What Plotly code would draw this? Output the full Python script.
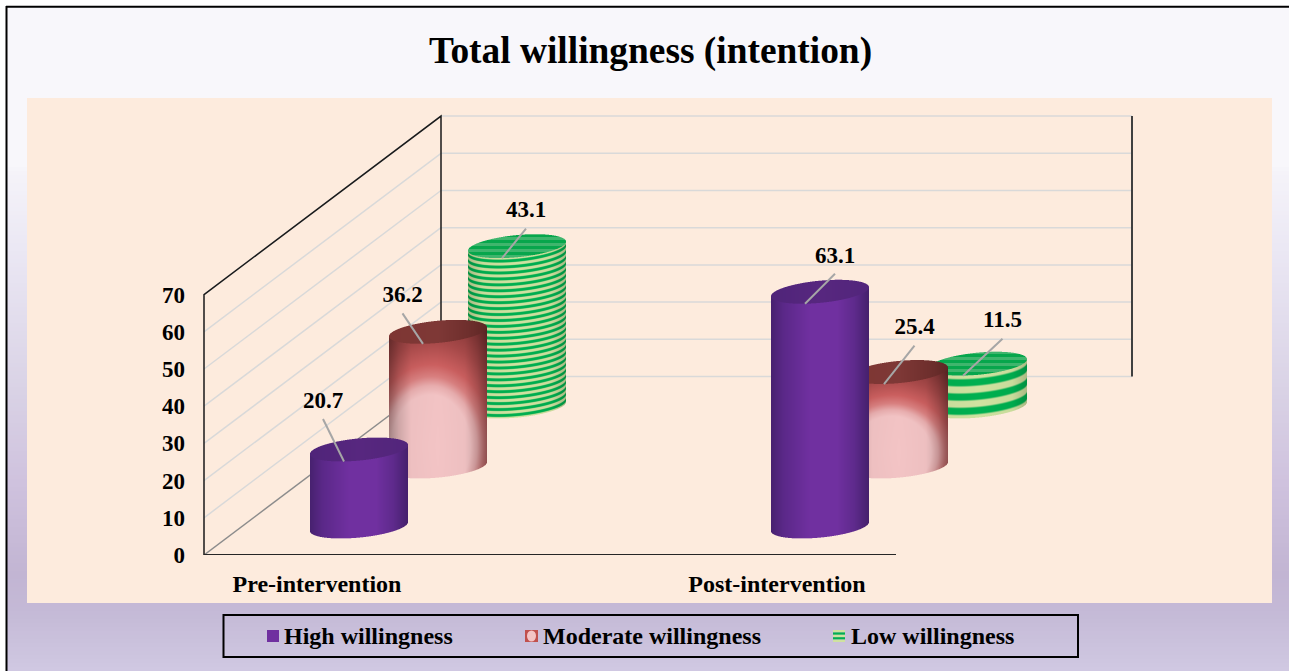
import numpy as np
import plotly.graph_objects as go

# ---------- data ----------
categories = ["Pre-intervention", "Post-intervention"]
series_names = ["High willingness", "Moderate willingness", "Low willingness"]
high_willingness = [20.7, 63.1]
moderate_willingness = [36.2, 25.4]
low_willingness = [43.1, 11.5]
y_ticks = [0, 10, 20, 30, 40, 50, 60, 70]

# ---------- geometry ----------
W, H = 1289, 671
FLOOR_PX, X_LEFT = 555, 190
K = 3.72                       # pixels per value unit
R_TOP = FLOOR_PX / K
DEPTH_X, DEPTH_PX = 237, 178.5
WALL_X0 = 204
WALL_X1 = 1132
FLOOR_END = 896
CAT_TICK_X = [317, 777]
BAR_X = [359, 820]             # first-series bar centres
BASE_PX = 526.5
STEP_X, STEP_PX = 79, 60
A, B, C = 49.0, 11.1, 4.5      # ellipse of a cylinder end
STRIPES = [27, 3]


def v_of(py):
    return (FLOOR_PX - py) / K


def hexrgb(h):
    return np.array([int(h[i:i + 2], 16) for i in (1, 3, 5)], float)


def ramp(t, stops, colors):
    cols = np.array([hexrgb(c) for c in colors])
    return np.stack([np.interp(t, stops, cols[:, i]) for i in range(3)], -1)


def paint_purple(u, ny, py, cy, body):
    side = ramp(u, [-1, -.75, -.2, .35, .7, 1],
                ["#47216f", "#5a2888", "#7030a0", "#7030a0", "#5e2a8c", "#45206c"])
    top = ramp(u, [-1, 0, 1], ["#4f2479", "#57277f", "#52257b"])
    return np.where(body[..., None], side, top)


def paint_red(u, ny, py, cy, body):
    r = np.sqrt(((u + .15) / .95) ** 2 + ((ny - .15) / .45) ** 2)
    c = ramp(r, [0, .85, 1.0, 1.15, 1.35, 1.7, 2.3],
             ["#f3c4c5", "#f2c3c4", "#e8adae", "#d98080", "#cb5f5f", "#a94a4a", "#7a3030"])
    edge = np.interp(np.abs(u), [0, .55, .8, 1], [1, .98, .85, .68])
    side = c * edge[..., None]
    top = ramp(u, [-1, 0, .6, 1], ["#7e3633", "#7e3836", "#6f2f2d", "#5e2725"])
    return np.where(body[..., None], side, top)


def paint_green(u, ny, py, cy, body, count=27, h=1):
    period = h / count
    front = C * u * -1 + B * np.sqrt(np.clip(1 - u ** 2, 0, 1))
    w = (py - (cy + front)) / period
    phase = w - np.floor(w)
    light = np.clip((np.abs(phase - .5) - .25) * 8 + .5, 0, 1)
    side = hexrgb("#00b050") * (1 - light[..., None]) + hexrgb("#cfe2a0") * light[..., None]
    edge = np.interp(np.abs(u), [0, .7, 1], [1, .97, .82])
    side = side * edge[..., None]
    hatch = (np.floor(py / 3) % 2)[..., None]
    top = hexrgb("#07a64c") * (1 - hatch) + hexrgb("#3fb56d") * hatch
    return np.where(body[..., None], side, top)


painters = [paint_purple, paint_red, paint_green]


def cylinder_rgba(cx, base_px, value, painter, ss=3, **kw):
    top_px = base_px - value * K
    x0, x1 = int(cx - A - 2), int(cx + A + 3)
    y0, y1 = int(top_px - B - C - 3), int(base_px + B + C + 3)
    xs = x0 + (np.arange((x1 - x0) * ss) + .5) / ss
    ys = y0 + (np.arange((y1 - y0) * ss) + .5) / ss
    X, Y = np.meshgrid(xs, ys)
    u = (X - cx) / A
    inside = np.abs(u) <= 1
    uc = np.clip(u, -1, 1)
    half = B * np.sqrt(1 - uc ** 2)
    tilt = -C * uc
    face = inside & (np.abs(Y - (top_px + tilt)) <= half)
    body = inside & ~face & (Y > top_px + tilt) & (Y <= base_px + tilt + half)
    ny = (base_px - Y) / max(value * K, 1)
    extra = dict(h=value * K, **kw) if painter is paint_green else {}
    rgb = painter(uc, ny, Y, top_px, body, **extra)
    alpha = (face | body).astype(float)
    n, m = y1 - y0, x1 - x0
    al = alpha.reshape(n, ss, m, ss).mean((1, 3))
    pm = (rgb * alpha[..., None]).reshape(n, ss, m, ss, 3).mean((1, 3))
    col = np.where(al[..., None] > 0, pm / np.maximum(al[..., None], 1e-6), 0)
    rgba = np.dstack([np.round(col), np.round(al, 2)])[::-1]    # lowest value row first
    return rgba, x0 + .5, v_of(y1 - .5)


fig = go.Figure()

# ---------- cylinders, back to front ----------
all_values = [high_willingness, moderate_willingness, low_willingness]
for s in [2, 1, 0]:
    for c in range(2):
        cx = BAR_X[c] + s * STEP_X
        base = BASE_PX - s * STEP_PX
        kw = dict(count=STRIPES[c]) if s == 2 else {}
        rgba, x0, y0 = cylinder_rgba(cx, base, all_values[s][c], painters[s], **kw)
        fig.add_trace(go.Image(z=rgba.tolist(), colormodel="rgba", x0=x0, dx=1, y0=y0, dy=1 / K,
                               name=series_names[s], hoverinfo="skip"))

# ---------- leader lines and value labels ----------
LABEL_OFF = {(0, 0): (-36, -47.5), (1, 0): (-35.5, -35.5), (2, 0): (9, -34.5),
             (0, 1): (15, -35), (1, 1): (15.5, -43.5), (2, 1): (24.5, -42)}
for s in range(3):
    for c in range(2):
        cx = BAR_X[c] + s * STEP_X
        top_px = BASE_PX - s * STEP_PX - all_values[s][c] * K
        ox, oy = LABEL_OFF[(s, c)]
        fig.add_trace(go.Scatter(x=[cx + ox, cx - 15], y=[v_of(top_px + oy + 17), v_of(top_px + 12)],
                                 mode="lines", line=dict(color="#a6a6a6", width=2),
                                 hoverinfo="skip", showlegend=False))
        fig.add_trace(go.Scatter(x=[cx + ox], y=[v_of(top_px + oy)], mode="text",
                                 text=[f"{all_values[s][c]:.1f}"], textposition="middle center",
                                 textfont=dict(family="Liberation Serif", size=23, color="#000", weight=700),
                                 hoverinfo="skip", showlegend=False))

# ---------- page furniture ----------
shapes = []
GRAD_Y = [7, 165, 173, 246, 318, 391, 482, 573, 610, 671]
GRAD_C = ["#f8f7fb", "#f8f7fb", "#f5f3f9", "#ebe8f4", "#e2dded", "#d9d2e5",
          "#cfc2de", "#c2b5d3", "#c4b9d6", "#d0c8e2"]
py_edges = np.arange(7, 672, 4)
for a, b in zip(py_edges[:-1], py_edges[1:]):
    col = ramp(np.array((a + b) / 2), GRAD_Y, GRAD_C)
    shapes.append(dict(type="rect", xref="paper", yref="paper", layer="below",
                       x0=7 / W, x1=1, y0=1 - (b + 1) / H, y1=1 - a / H,
                       fillcolor=f"rgb({col[0]:.0f},{col[1]:.0f},{col[2]:.0f})", line_width=0))


def rect(x0, y0, x1, y1, **kw):
    d = dict(type="rect", xref="paper", yref="paper", x0=x0 / W, x1=x1 / W,
             y0=1 - y1 / H, y1=1 - y0 / H, line_width=0)
    d.update(kw)
    return d


def wall(xs, ys, color, width):
    path = "M " + " L ".join(f"{x},{y}" for x, y in zip(xs, ys))
    return dict(type="path", xref="x", yref="y", path=path, layer="below",
                line=dict(color=color, width=width))


shapes.append(rect(27, 98, 1272, 603, fillcolor="#fdebdd", layer="below"))

# walls and grid, tied to the axes
DV = DEPTH_PX / K
vmax = y_ticks[-1]
for v in y_ticks:
    shapes.append(wall([WALL_X0 + DEPTH_X, WALL_X1], [v + DV, v + DV], "#d9d9d9", 1.5))
    shapes.append(wall([WALL_X0, WALL_X0 + DEPTH_X], [v, v + DV],
                       "#8c8c8c" if v == 0 else "#d9d9d9", 1.5))
shapes.append(wall([WALL_X0, WALL_X0, WALL_X0 + DEPTH_X, WALL_X0 + DEPTH_X],
                   [0, vmax, vmax + DV, DV], "#1a1a1a", 1.5))
shapes.append(wall([WALL_X1, WALL_X1], [vmax + DV, DV], "#404040", 2))
shapes.append(wall([WALL_X0, FLOOR_END], [0, 0], "#262626", 2))

shapes.append(dict(type="line", xref="paper", yref="paper", x0=6.5 / W, x1=6.5 / W, y0=0, y1=1 - 6 / H,
                   line=dict(color="#000", width=2), layer="above"))
shapes.append(dict(type="line", xref="paper", yref="paper", x0=6 / W, x1=1, y0=1 - 6.8 / H, y1=1 - 6.8 / H,
                   line=dict(color="#000", width=2), layer="above"))
shapes.append(rect(223.5, 615, 1078, 657, line=dict(color="#000", width=2), fillcolor="rgba(0,0,0,0)", line_width=2))
# legend swatches
shapes.append(rect(267, 630, 279, 642, fillcolor="#7030a0"))
shapes.append(rect(525, 630, 538, 642, fillcolor="#c0504d"))
shapes.append(dict(type="circle", xref="paper", yref="paper", x0=527 / W, x1=536 / W,
                   y0=1 - 641.5 / H, y1=1 - 630.5 / H, fillcolor="#f3c4c5", line_width=0))
for i, col in enumerate(["#cfe2a0", "#00b050", "#cfe2a0", "#00b050", "#cfe2a0"]):
    y = 630 + i * 2.4
    shapes.append(rect(833, y, 845, y + 2.4, fillcolor=col))

annotations = []
for name, x in zip(series_names, [281.6, 540.6, 848.6]):
    annotations.append(dict(text=name, xref="paper", yref="paper", x=x / W, y=1 - 635.5 / H,
                            xanchor="left", yanchor="middle", showarrow=False,
                            font=dict(family="Liberation Serif", size=24, color="#000", weight=700)))

fig.update_layout(
    width=W, height=H, margin=dict(l=0, r=0, t=0, b=0), autosize=False,
    paper_bgcolor="#ffffff", plot_bgcolor="rgba(0,0,0,0)", showlegend=False,
    title=dict(text="Total willingness (intention)", x=650.5 / W, xanchor="center",
               y=1 - 50 / H, yanchor="middle",
               font=dict(family="Liberation Serif", size=37.4, color="#000", weight=700)),
    xaxis=dict(domain=[X_LEFT / W, 1], range=[X_LEFT, W], tickmode="array", tickvals=CAT_TICK_X,
               ticktext=categories, showgrid=False, zeroline=False, showline=False, ticks="",
               ticklabelstandoff=12, automargin=False,
               tickfont=dict(family="Liberation Serif", size=24, color="#000", weight=700)),
    yaxis=dict(domain=[(H - FLOOR_PX) / H, 1], range=[0, R_TOP], tickmode="array", tickvals=y_ticks,
               showgrid=False, zeroline=False, showline=False, ticks="", ticklabelstandoff=4,
               scaleanchor=False, automargin=False,
               tickfont=dict(family="Liberation Serif", size=23, color="#000", weight=700)),
    shapes=shapes, annotations=annotations,
)

fig.write_html("out.html", post_script="document.body.style.margin='0';",
               default_width="1289px", default_height="671px",
               config=dict(displayModeBar=False, responsive=False))
